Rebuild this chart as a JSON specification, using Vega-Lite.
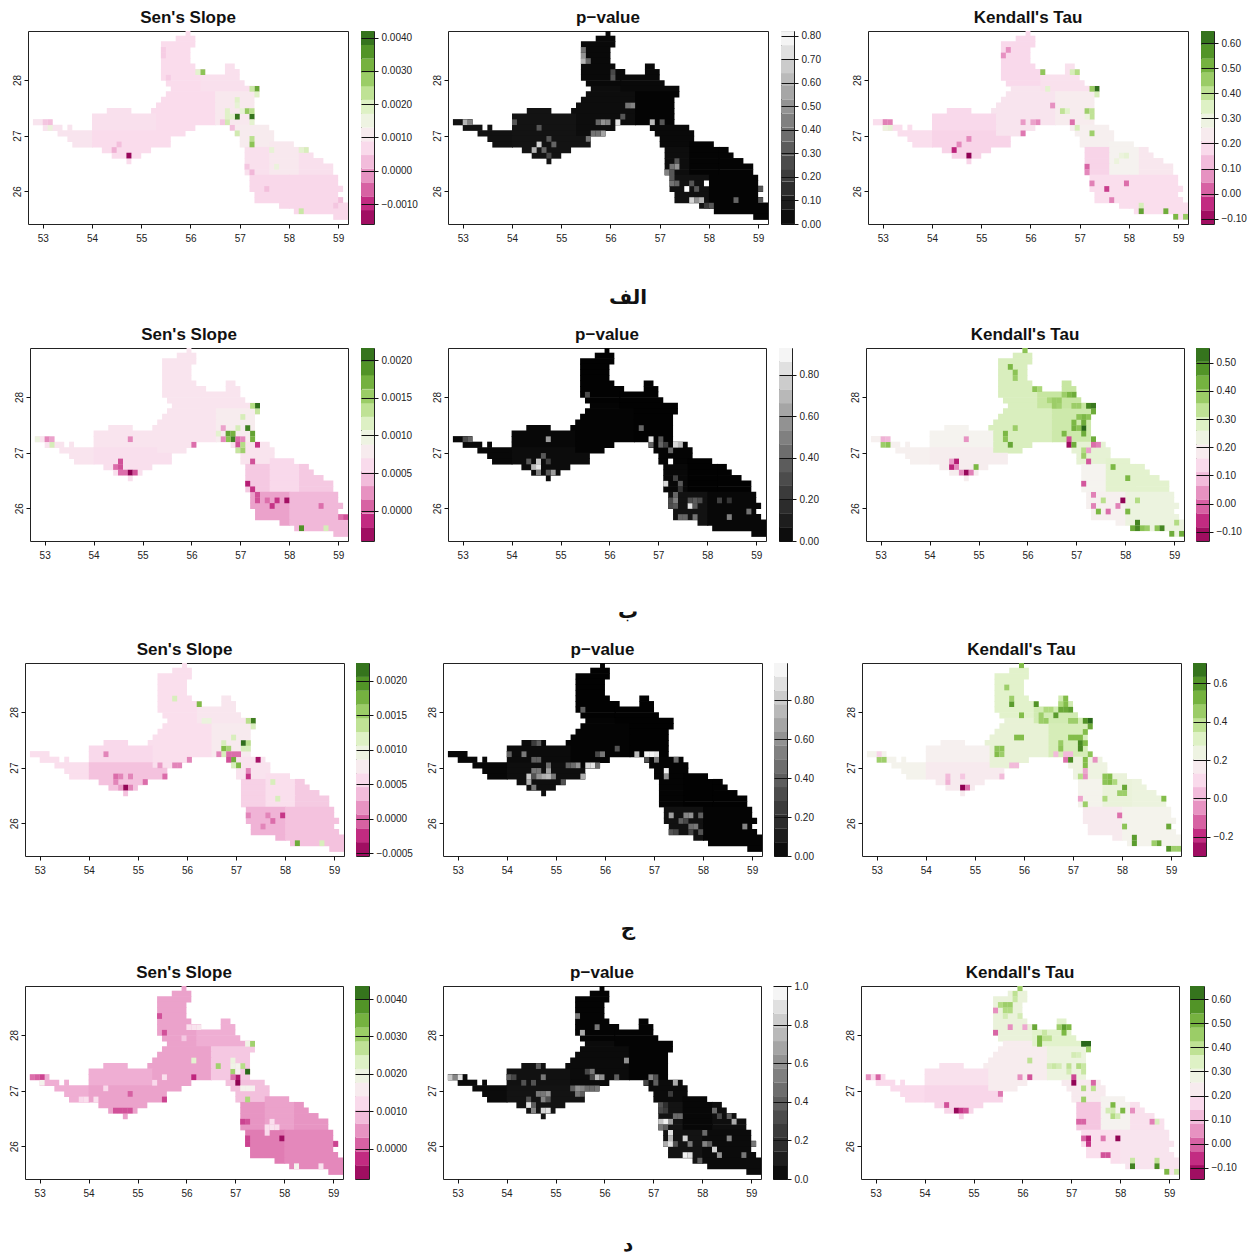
{"$schema":"https://vega.github.io/schema/vega-lite/v6.json","padding":0,"background":"white","bounds":"flush","spacing":0,"resolve":{"scale":{"color":"independent"}},
"config":{"view":{"stroke":null},"concat":{"spacing":0},"axis":{"grid":false,"domain":false,"tickColor":"#111","labelColor":"#222","labelFont":"Liberation Sans","labelFontSize":10,"tickSize":4,"labelPadding":4,"gridColor":"#111"},"axisX":{"labelPadding":5},"axisY":{"labelAngle":-90,"labelPadding":2},"title":{"font":"Liberation Sans","fontWeight":"bold","fontSize":17,"offset":4,"color":"#111"}},
"datasets":{
"zones":[
{"z":"N","s1":0.0007,"p1":0.02,"t1":0.18,"s2":0.0007,"p2":0.005,"t2":0.29,"s3":0.0006,"p3":0.005,"t3":0.3,"s4":0.0006,"p4":0.01,"t4":0.3},
{"z":"E","s1":0.0008,"p1":0.02,"t1":0.2,"s2":0.0007,"p2":0.005,"t2":0.32,"s3":0.0007,"p3":0.005,"t3":0.34,"s4":0.0007,"p4":0.01,"t4":0.33},
{"z":"M","s1":0.0007,"p1":0.03,"t1":0.21,"s2":0.0007,"p2":0.01,"t2":0.29,"s3":0.0006,"p3":0.01,"t3":0.27,"s4":0.0006,"p4":0.03,"t4":0.23},
{"z":"C","s1":0.001,"p1":0.01,"t1":0.24,"s2":0.0008,"p2":0.005,"t2":0.31,"s3":0.00075,"p3":0.005,"t3":0.33,"s4":0.001,"p4":0.01,"t4":0.29},
{"z":"A","s1":0.0009,"p1":0.04,"t1":0.19,"s2":0.0007,"p2":0.02,"t2":0.2,"s3":0.0006,"p3":0.02,"t3":0.21,"s4":0.0007,"p4":0.03,"t4":0.17},
{"z":"W","s1":0.0008,"p1":0.05,"t1":0.18,"s2":0.0007,"p2":0.02,"t2":0.21,"s3":0.00055,"p3":0.03,"t3":0.19,"s4":0.0007,"p4":0.05,"t4":0.19},
{"z":"L","s1":0.0007,"p1":0.05,"t1":0.17,"s2":0.00065,"p2":0.03,"t2":0.19,"s3":0.0004,"p3":0.04,"t3":0.16,"s4":0.0006,"p4":0.06,"t4":0.16},
{"z":"K","s1":0.0011,"p1":0.02,"t1":0.25,"s2":0.0007,"p2":0.01,"t2":0.26,"s3":0.00065,"p3":0.01,"t3":0.24,"s4":0.0009,"p4":0.03,"t4":0.22},
{"z":"P","s1":0.0008,"p1":0.03,"t1":0.17,"s2":0.0005,"p2":0.02,"t2":0.21,"s3":0.0005,"p3":0.01,"t3":0.21,"s4":0.0005,"p4":0.06,"t4":0.13},
{"z":"Q","s1":0.001,"p1":0.01,"t1":0.26,"s2":0.0006,"p2":0.005,"t2":0.27,"s3":0.0006,"p3":0.005,"t3":0.26,"s4":0.0006,"p4":0.02,"t4":0.25},
{"z":"R","s1":0.0008,"p1":0.01,"t1":0.22,"s2":0.0005,"p2":0.005,"t2":0.27,"s3":0.00045,"p3":0.005,"t3":0.25,"s4":0.0005,"p4":0.04,"t4":0.19},
{"z":"U","s1":0.00065,"p1":0.04,"t1":0.19,"s2":0.0003,"p2":0.05,"t2":0.2,"s3":0.0003,"p3":0.05,"t3":0.16,"s4":0.0003,"p4":0.06,"t4":0.18},
{"z":"V","s1":0.00065,"p1":0.01,"t1":0.19,"s2":0.0004,"p2":0.02,"t2":0.24,"s3":0.0004,"p3":0.01,"t3":0.21,"s4":0.0004,"p4":0.03,"t4":0.2}],
"runs":[
{"y":28.84,"x":55.9,"x2":56,"z":"N"},{"y":28.74,"x":55.7,"x2":56.1,"z":"N"},{"y":28.64,"x":55.4,"x2":56.1,"z":"N"},{"y":28.54,"x":55.4,"x2":56,"z":"N"},{"y":28.44,"x":55.4,"x2":56,"z":"N"},{"y":28.34,"x":55.4,"x2":56,"z":"N"},
{"y":28.24,"x":55.4,"x2":56.1,"z":"N"},{"y":28.24,"x":56.7,"x2":56.9,"z":"E"},{"y":28.14,"x":55.4,"x2":56.3,"z":"N"},{"y":28.14,"x":56.7,"x2":57,"z":"E"},
{"y":28.04,"x":55.4,"x2":56.22,"z":"N"},{"y":28.04,"x":56.2,"x2":57,"z":"E"},{"y":27.94,"x":55.5,"x2":56.22,"z":"N"},{"y":27.94,"x":56.2,"x2":57.1,"z":"E"},
{"y":27.84,"x":55.6,"x2":56.22,"z":"M"},{"y":27.84,"x":56.2,"x2":57.4,"z":"E"},{"y":27.74,"x":55.5,"x2":56.52,"z":"M"},{"y":27.74,"x":56.5,"x2":57.4,"z":"C"},
{"y":27.64,"x":55.4,"x2":56.52,"z":"M"},{"y":27.64,"x":56.5,"x2":57.3,"z":"C"},{"y":27.54,"x":55.3,"x2":56.52,"z":"M"},{"y":27.54,"x":56.5,"x2":57.3,"z":"C"},
{"y":27.44,"x":54.3,"x2":54.8,"z":"W"},{"y":27.44,"x":55.2,"x2":56.52,"z":"M"},{"y":27.44,"x":56.5,"x2":57.3,"z":"C"},
{"y":27.34,"x":54,"x2":55.32,"z":"W"},{"y":27.34,"x":55.3,"x2":56.52,"z":"M"},{"y":27.34,"x":56.5,"x2":57.3,"z":"C"},
{"y":27.24,"x":52.8,"x2":53.2,"z":"A"},{"y":27.24,"x":54,"x2":55.32,"z":"W"},{"y":27.24,"x":55.3,"x2":56.52,"z":"M"},{"y":27.24,"x":56.5,"x2":57.3,"z":"C"},
{"y":27.14,"x":53,"x2":53.4,"z":"A"},{"y":27.14,"x":53.5,"x2":53.6,"z":"A"},{"y":27.14,"x":54,"x2":55.32,"z":"W"},{"y":27.14,"x":55.3,"x2":56.1,"z":"M"},{"y":27.14,"x":56.8,"x2":57.6,"z":"K"},
{"y":27.04,"x":53.3,"x2":54.02,"z":"A"},{"y":27.04,"x":54,"x2":55.32,"z":"L"},{"y":27.04,"x":55.3,"x2":55.9,"z":"M"},{"y":27.04,"x":56.9,"x2":57.7,"z":"K"},
{"y":26.94,"x":53.5,"x2":54.02,"z":"A"},{"y":26.94,"x":54,"x2":55.6,"z":"L"},{"y":26.94,"x":57,"x2":57.7,"z":"K"},
{"y":26.84,"x":53.6,"x2":54.02,"z":"A"},{"y":26.84,"x":54,"x2":55.6,"z":"L"},{"y":26.84,"x":57,"x2":57.62,"z":"K"},{"y":26.84,"x":57.6,"x2":58.1,"z":"Q"},
{"y":26.74,"x":54.2,"x2":55.2,"z":"L"},{"y":26.74,"x":57.1,"x2":57.62,"z":"P"},{"y":26.74,"x":57.6,"x2":58.22,"z":"Q"},{"y":26.74,"x":58.2,"x2":58.4,"z":"R"},
{"y":26.64,"x":54.4,"x2":55,"z":"L"},{"y":26.64,"x":57.1,"x2":57.62,"z":"P"},{"y":26.64,"x":57.6,"x2":58.22,"z":"Q"},{"y":26.64,"x":58.2,"x2":58.5,"z":"R"},
{"y":26.54,"x":54.7,"x2":54.8,"z":"L"},{"y":26.54,"x":57.1,"x2":57.62,"z":"P"},{"y":26.54,"x":57.6,"x2":58.22,"z":"Q"},{"y":26.54,"x":58.2,"x2":58.7,"z":"R"},
{"y":26.44,"x":57.1,"x2":57.62,"z":"P"},{"y":26.44,"x":57.6,"x2":58.22,"z":"Q"},{"y":26.44,"x":58.2,"x2":58.9,"z":"R"},
{"y":26.34,"x":57.1,"x2":57.62,"z":"P"},{"y":26.34,"x":57.6,"x2":58.22,"z":"Q"},{"y":26.34,"x":58.2,"x2":58.9,"z":"R"},
{"y":26.24,"x":57.2,"x2":58.02,"z":"U"},{"y":26.24,"x":58,"x2":59,"z":"V"},{"y":26.14,"x":57.2,"x2":58.02,"z":"U"},{"y":26.14,"x":58,"x2":59,"z":"V"},
{"y":26.04,"x":57.2,"x2":58.02,"z":"U"},{"y":26.04,"x":58,"x2":59.1,"z":"V"},{"y":25.94,"x":57.3,"x2":58.02,"z":"U"},{"y":25.94,"x":58,"x2":59,"z":"V"},
{"y":25.84,"x":57.3,"x2":58.02,"z":"U"},{"y":25.84,"x":58,"x2":59.1,"z":"V"},{"y":25.74,"x":57.8,"x2":58.02,"z":"U"},{"y":25.74,"x":58,"x2":59.2,"z":"V"},
{"y":25.64,"x":58.1,"x2":59.2,"z":"V"},{"y":25.54,"x":58.9,"x2":59.2,"z":"V"}],
"c1":[{"x":56.95,"y":27.34,"v":0.004},{"x":57.25,"y":27.34,"v":0.004},{"x":57.35,"y":27.84,"v":0.0033},{"x":57.25,"y":27.84,"v":0.0022},{"x":57.35,"y":27.74,"v":0.0019},{"x":56.25,"y":28.14,"v":0.0029},{"x":56.15,"y":28.14,"v":0.0018},{"x":57.15,"y":27.44,"v":0.0028},{"x":57.25,"y":27.44,"v":0.0024},{"x":57.05,"y":27.44,"v":0.0017},{"x":56.95,"y":27.64,"v":0.0019},{"x":56.95,"y":27.54,"v":0.0017},{"x":56.75,"y":27.44,"v":0.0019},{"x":56.85,"y":27.34,"v":0.0018},{"x":56.75,"y":27.34,"v":0.0019},{"x":56.75,"y":27.24,"v":0.0021},{"x":56.95,"y":27.04,"v":0.0021},{"x":57.25,"y":26.94,"v":0.0024},{"x":57.25,"y":26.84,"v":0.0029},{"x":57.25,"y":27.24,"v":0.0018},{"x":54.75,"y":26.64,"v":-0.0015},{"x":54.45,"y":26.74,"v":0.0001},{"x":54.55,"y":26.84,"v":0.0003},{"x":58.25,"y":25.64,"v":0.0022},{"x":58.35,"y":26.74,"v":0.002},{"x":58.25,"y":26.74,"v":0.0018},{"x":57.65,"y":26.74,"v":0.0017},{"x":56.85,"y":27.14,"v":0.0003},{"x":56.65,"y":27.24,"v":0.0004},{"x":53.15,"y":27.14,"v":0.0016},{"x":53.15,"y":27.24,"v":0.0003},{"x":53.05,"y":27.24,"v":0.0004},{"x":57.15,"y":26.44,"v":0.0004},{"x":57.25,"y":26.34,"v":0.0002},{"x":57.55,"y":26.04,"v":0.0003},{"x":58.95,"y":25.74,"v":0.0004},{"x":59.05,"y":25.84,"v":0.0003},{"x":57.75,"y":26.44,"v":0.0016},{"x":55.45,"y":28.44,"v":0.0005},{"x":55.45,"y":28.54,"v":0.0005},{"x":55.55,"y":28.04,"v":0.0005}],
"c2":[{"x":57.55,"y":26.04,"v":0.82},{"x":57.95,"y":26.14,"v":0.82},{"x":56.85,"y":27.24,"v":0.62},{"x":54.55,"y":26.84,"v":0.7},{"x":54.45,"y":26.74,"v":0.6},{"x":53.05,"y":27.24,"v":0.6},{"x":53.15,"y":27.24,"v":0.45},{"x":56.15,"y":27.24,"v":0.75},{"x":55.95,"y":27.24,"v":0.45},{"x":55.85,"y":27.24,"v":0.5},{"x":55.75,"y":27.24,"v":0.35},{"x":55.45,"y":28.44,"v":0.5},{"x":55.45,"y":28.34,"v":0.6},{"x":55.55,"y":28.34,"v":0.35},{"x":55.45,"y":28.54,"v":0.4},{"x":55.85,"y":27.04,"v":0.55},{"x":55.65,"y":27.04,"v":0.4},{"x":55.75,"y":27.04,"v":0.4},{"x":55.55,"y":26.94,"v":0.4},{"x":56.35,"y":27.54,"v":0.4},{"x":56.45,"y":27.54,"v":0.45},{"x":57.35,"y":26.44,"v":0.5},{"x":57.25,"y":26.44,"v":0.4},{"x":57.15,"y":26.34,"v":0.45},{"x":57.25,"y":26.34,"v":0.3},{"x":57.35,"y":26.54,"v":0.3},{"x":57.25,"y":26.14,"v":0.4},{"x":57.25,"y":26.24,"v":0.3},{"x":57.35,"y":26.14,"v":0.35},{"x":57.65,"y":25.84,"v":0.7},{"x":57.75,"y":25.84,"v":0.5},{"x":57.85,"y":25.84,"v":0.6},{"x":58.05,"y":25.74,"v":0.3},{"x":57.95,"y":25.74,"v":0.2},{"x":57.65,"y":26.14,"v":0.3},{"x":57.75,"y":26.04,"v":0.3},{"x":58.55,"y":25.84,"v":0.35},{"x":59.05,"y":26.04,"v":0.3},{"x":59.05,"y":25.84,"v":0.3},{"x":54.65,"y":26.74,"v":0.35},{"x":54.75,"y":26.94,"v":0.3},{"x":54.85,"y":26.84,"v":0.35},{"x":54.75,"y":26.64,"v":0.25},{"x":54.55,"y":27.14,"v":0.3},{"x":56.25,"y":27.34,"v":0.3},{"x":57.05,"y":27.24,"v":0.3},{"x":56.05,"y":28.04,"v":0.3},{"x":56.05,"y":28.14,"v":0.25},{"x":54.05,"y":27.24,"v":0.3}],
"c3":[{"x":57.35,"y":27.84,"v":0.63},{"x":57.25,"y":27.84,"v":0.46},{"x":57.35,"y":27.74,"v":0.36},{"x":56.25,"y":28.14,"v":0.47},{"x":56.85,"y":28.14,"v":0.36},{"x":56.95,"y":28.14,"v":0.42},{"x":56.65,"y":27.44,"v":0.4},{"x":56.75,"y":27.44,"v":0.34},{"x":57.15,"y":27.44,"v":0.45},{"x":57.25,"y":27.44,"v":0.4},{"x":57.25,"y":27.34,"v":0.4},{"x":57.15,"y":27.34,"v":0.3},{"x":57.25,"y":27.04,"v":0.45},{"x":56.95,"y":27.14,"v":0.36},{"x":56.35,"y":27.84,"v":0.33},{"x":58.25,"y":25.74,"v":0.36},{"x":58.25,"y":25.64,"v":0.54},{"x":58.75,"y":25.64,"v":0.52},{"x":58.95,"y":25.54,"v":0.5},{"x":59.15,"y":25.54,"v":0.46},{"x":54.45,"y":26.74,"v":-0.05},{"x":54.75,"y":26.64,"v":-0.12},{"x":53.15,"y":27.24,"v":0.05},{"x":53.05,"y":27.24,"v":0.05},{"x":53.15,"y":27.14,"v":0.32},{"x":53.05,"y":27.14,"v":0.3},{"x":57.15,"y":26.44,"v":0.02},{"x":57.55,"y":26.04,"v":-0.02},{"x":57.95,"y":26.14,"v":0.03},{"x":57.65,"y":25.84,"v":0.05},{"x":56.85,"y":27.24,"v":0.03},{"x":56.15,"y":27.24,"v":0.06},{"x":55.85,"y":27.04,"v":0.04},{"x":55.55,"y":28.54,"v":0.07},{"x":55.45,"y":28.44,"v":0.07},{"x":57.85,"y":26.64,"v":0.3},{"x":57.95,"y":26.64,"v":0.32},{"x":57.75,"y":26.54,"v":0.3},{"x":55.85,"y":27.24,"v":0.08},{"x":56.05,"y":27.24,"v":0.09},{"x":56.45,"y":27.54,"v":0.07},{"x":54.55,"y":26.84,"v":0.06},{"x":54.75,"y":26.94,"v":0.06},{"x":57.25,"y":26.14,"v":0.05},{"x":57.15,"y":26.34,"v":0.06}],
"c4":[{"x":57.35,"y":27.84,"v":0.0021},{"x":57.25,"y":27.84,"v":0.0014},{"x":57.35,"y":27.74,"v":0.0013},{"x":57.15,"y":27.44,"v":0.002},{"x":57.25,"y":27.34,"v":0.0018},{"x":57.25,"y":27.24,"v":0.0017},{"x":56.75,"y":27.34,"v":0.0018},{"x":56.85,"y":27.34,"v":0.0017},{"x":56.85,"y":27.24,"v":0.002},{"x":56.75,"y":27.24,"v":0.0016},{"x":56.95,"y":27.24,"v":0.0001},{"x":56.95,"y":27.14,"v":0},{"x":56.95,"y":27.04,"v":0.0013},{"x":57.05,"y":27.04,"v":0.0015},{"x":57.05,"y":27.14,"v":0.0014},{"x":56.05,"y":27.14,"v":0.0001},{"x":54.75,"y":27.24,"v":0.0002},{"x":54.55,"y":26.84,"v":0},{"x":54.55,"y":26.74,"v":0},{"x":54.45,"y":26.74,"v":0.0001},{"x":54.55,"y":26.64,"v":0.0001},{"x":54.65,"y":26.64,"v":0.0001},{"x":54.75,"y":26.64,"v":-0.0004},{"x":54.85,"y":26.64,"v":0},{"x":57.25,"y":26.84,"v":0},{"x":57.35,"y":27.14,"v":-0.0001},{"x":57.15,"y":26.44,"v":-0.0002},{"x":57.25,"y":26.34,"v":-0.0001},{"x":57.95,"y":26.14,"v":-0.0003},{"x":57.75,"y":26.14,"v":-0.0001},{"x":57.35,"y":26.24,"v":0},{"x":57.35,"y":26.14,"v":0},{"x":57.65,"y":26.04,"v":-0.0001},{"x":57.55,"y":26.14,"v":0.0001},{"x":58.25,"y":25.64,"v":0.0019},{"x":58.75,"y":25.64,"v":0.0012},{"x":53.15,"y":27.14,"v":0.0012},{"x":52.85,"y":27.24,"v":0.001},{"x":53.05,"y":27.24,"v":0.0002},{"x":53.15,"y":27.24,"v":0.0003},{"x":56.55,"y":27.34,"v":0.0011},{"x":57.05,"y":27.64,"v":0.0012},{"x":56.95,"y":27.44,"v":0.0012},{"x":59.15,"y":25.84,"v":0},{"x":59.05,"y":25.84,"v":0.0001},{"x":58.65,"y":26.04,"v":0.0001},{"x":57.05,"y":27.24,"v":0.0002},{"x":56.65,"y":27.24,"v":0.0002},{"x":56.65,"y":27.44,"v":0.0003}],
"c5":[{"x":54.55,"y":26.74,"v":0.85},{"x":54.45,"y":26.74,"v":0.7},{"x":54.55,"y":26.84,"v":0.75},{"x":54.35,"y":26.84,"v":0.35},{"x":54.85,"y":26.64,"v":0.6},{"x":54.75,"y":26.64,"v":0.35},{"x":54.55,"y":26.64,"v":0.5},{"x":54.75,"y":27.24,"v":0.6},{"x":53.05,"y":27.24,"v":0.3},{"x":53.15,"y":27.24,"v":0.4},{"x":55.55,"y":28.04,"v":0.3},{"x":56.65,"y":27.44,"v":0.4},{"x":56.85,"y":27.24,"v":0.85},{"x":56.85,"y":27.14,"v":0.4},{"x":57.05,"y":27.24,"v":0.35},{"x":57.05,"y":27.14,"v":0.4},{"x":57.15,"y":27.14,"v":0.25},{"x":57.35,"y":27.14,"v":0.8},{"x":57.45,"y":27.14,"v":0.7},{"x":57.25,"y":27.04,"v":0.4},{"x":57.25,"y":26.84,"v":0.93},{"x":57.15,"y":26.44,"v":0.8},{"x":57.35,"y":26.24,"v":0.4},{"x":57.35,"y":26.14,"v":0.5},{"x":57.25,"y":26.14,"v":0.3},{"x":57.35,"y":26.04,"v":0.35},{"x":57.25,"y":26.04,"v":0.3},{"x":57.65,"y":26.04,"v":0.85},{"x":57.55,"y":25.84,"v":0.4},{"x":57.45,"y":25.84,"v":0.4},{"x":57.75,"y":25.84,"v":0.45},{"x":58.45,"y":25.84,"v":0.5},{"x":58.85,"y":25.94,"v":0.45},{"x":57.75,"y":26.04,"v":0.35},{"x":57.75,"y":26.14,"v":0.35},{"x":57.65,"y":26.14,"v":0.3},{"x":58.25,"y":26.14,"v":0.25},{"x":57.85,"y":26.14,"v":0.3},{"x":58.45,"y":26.14,"v":0.2},{"x":57.45,"y":26.44,"v":0.35},{"x":57.35,"y":26.54,"v":0.25},{"x":54.75,"y":26.84,"v":0.25},{"x":54.65,"y":26.94,"v":0.35},{"x":57.45,"y":26.34,"v":0.2}],
"c6":[{"x":55.95,"y":28.84,"v":0.4},{"x":57.25,"y":27.84,"v":0.5},{"x":57.35,"y":27.84,"v":0.52},{"x":57.35,"y":27.74,"v":0.44},{"x":56.15,"y":28.14,"v":0.4},{"x":56.25,"y":28.14,"v":0.36},{"x":56.85,"y":28.04,"v":0.42},{"x":56.95,"y":28.04,"v":0.44},{"x":56.45,"y":27.94,"v":0.36},{"x":56.55,"y":27.94,"v":0.38},{"x":56.65,"y":27.94,"v":0.38},{"x":56.75,"y":28.04,"v":0.38},{"x":56.65,"y":27.84,"v":0.37},{"x":56.55,"y":27.84,"v":0.38},{"x":56.95,"y":27.84,"v":0.38},{"x":57.05,"y":27.84,"v":0.38},{"x":57.15,"y":27.64,"v":0.42},{"x":57.05,"y":27.64,"v":0.4},{"x":57.25,"y":27.64,"v":0.4},{"x":56.95,"y":27.54,"v":0.42},{"x":56.95,"y":27.44,"v":0.43},{"x":57.15,"y":27.44,"v":0.55},{"x":57.15,"y":27.54,"v":0.44},{"x":57.05,"y":27.44,"v":0.4},{"x":56.75,"y":27.34,"v":0.42},{"x":57.15,"y":27.34,"v":0.44},{"x":55.65,"y":27.14,"v":0.45},{"x":55.55,"y":27.34,"v":0.42},{"x":55.55,"y":27.24,"v":0.4},{"x":55.75,"y":28.44,"v":0.4},{"x":55.65,"y":28.54,"v":0.42},{"x":55.75,"y":28.34,"v":0.38},{"x":55.75,"y":27.44,"v":0.38},{"x":56.85,"y":27.24,"v":-0.03},{"x":56.85,"y":27.14,"v":-0.11},{"x":56.95,"y":27.14,"v":0.44},{"x":57.35,"y":27.24,"v":0.44},{"x":57.35,"y":27.14,"v":0},{"x":57.45,"y":27.14,"v":0.02},{"x":57.15,"y":27.04,"v":0.35},{"x":57.15,"y":26.94,"v":0.38},{"x":57.25,"y":26.84,"v":-0.02},{"x":57.25,"y":27.04,"v":0.05},{"x":54.55,"y":26.84,"v":-0.08},{"x":54.45,"y":26.74,"v":-0.07},{"x":54.55,"y":26.74,"v":0.03},{"x":54.75,"y":26.64,"v":-0.12},{"x":54.85,"y":26.64,"v":0.02},{"x":54.65,"y":26.64,"v":0.03},{"x":54.95,"y":26.74,"v":0.42},{"x":54.75,"y":27.24,"v":0.04},{"x":53.15,"y":27.14,"v":0.4},{"x":53.05,"y":27.14,"v":0.38},{"x":53.15,"y":27.24,"v":0.08},{"x":53.05,"y":27.24,"v":0.07},{"x":54.45,"y":26.84,"v":0.05},{"x":57.15,"y":26.44,"v":-0.02},{"x":57.95,"y":26.14,"v":-0.13},{"x":57.65,"y":25.94,"v":0},{"x":57.45,"y":25.94,"v":0.42},{"x":58.05,"y":25.94,"v":0.42},{"x":57.75,"y":26.74,"v":0.42},{"x":58.05,"y":26.54,"v":0.42},{"x":58.25,"y":25.74,"v":0.5},{"x":58.25,"y":25.64,"v":0.5},{"x":58.15,"y":25.64,"v":0.44},{"x":58.35,"y":25.64,"v":0.4},{"x":58.45,"y":25.64,"v":0.38},{"x":58.65,"y":25.64,"v":0.4},{"x":58.75,"y":25.64,"v":0.5},{"x":58.95,"y":25.54,"v":0.44},{"x":59.15,"y":25.54,"v":0.44},{"x":59.05,"y":25.74,"v":0.35},{"x":58.25,"y":26.14,"v":0.35},{"x":57.55,"y":26.14,"v":0.34},{"x":57.35,"y":26.24,"v":0.02},{"x":57.35,"y":26.04,"v":0.02},{"x":57.85,"y":26.04,"v":0.02}],
"c7":[{"x":57.35,"y":27.84,"v":0.0021},{"x":57.25,"y":27.84,"v":0.0014},{"x":57.35,"y":27.74,"v":0.0012},{"x":56.25,"y":28.14,"v":0.0017},{"x":57.15,"y":27.44,"v":0.0022},{"x":57.25,"y":27.44,"v":0.0014},{"x":56.75,"y":27.34,"v":0.0017},{"x":56.85,"y":27.34,"v":0.0015},{"x":56.95,"y":27.54,"v":0.0012},{"x":57.15,"y":27.34,"v":0.0012},{"x":57.25,"y":27.34,"v":0.0012},{"x":56.75,"y":27.44,"v":0.0012},{"x":56.95,"y":27.14,"v":0.0018},{"x":57.05,"y":27.04,"v":0.0017},{"x":56.95,"y":27.04,"v":0.0012},{"x":56.75,"y":27.24,"v":0.0012},{"x":56.65,"y":27.24,"v":0.0001},{"x":56.85,"y":27.24,"v":0},{"x":56.95,"y":27.24,"v":0},{"x":57.05,"y":27.24,"v":0},{"x":56.85,"y":27.14,"v":-0.0001},{"x":57.45,"y":27.14,"v":-0.0004},{"x":57.25,"y":26.94,"v":0.0001},{"x":57.25,"y":26.84,"v":-0.0002},{"x":57.75,"y":26.74,"v":0.0012},{"x":57.85,"y":26.44,"v":0.0012},{"x":54.75,"y":26.64,"v":-0.0005},{"x":54.55,"y":26.84,"v":0},{"x":54.55,"y":26.74,"v":0.0001},{"x":54.65,"y":26.84,"v":0.0001},{"x":54.85,"y":26.64,"v":0.0001},{"x":54.65,"y":26.64,"v":0.0002},{"x":54.85,"y":26.84,"v":0.0001},{"x":55.55,"y":26.84,"v":0},{"x":55.15,"y":26.74,"v":0},{"x":55.75,"y":27.04,"v":0.0001},{"x":55.85,"y":27.04,"v":0.0001},{"x":55.45,"y":27.04,"v":0.0002},{"x":57.95,"y":26.14,"v":-0.0002},{"x":57.65,"y":26.14,"v":0.0001},{"x":57.75,"y":26.04,"v":0},{"x":57.55,"y":25.94,"v":0.0001},{"x":57.25,"y":26.14,"v":0.0001},{"x":58.25,"y":25.64,"v":0.0018},{"x":58.75,"y":25.64,"v":0.0012},{"x":55.75,"y":28.24,"v":0.0012},{"x":56.45,"y":27.84,"v":0.001},{"x":56.35,"y":27.84,"v":0.001},{"x":54.35,"y":27.24,"v":0.0001},{"x":56.05,"y":27.14,"v":0.0001}],
"c8":[{"x":54.45,"y":26.84,"v":0.8},{"x":54.45,"y":26.74,"v":0.7},{"x":54.55,"y":26.94,"v":0.5},{"x":54.65,"y":26.94,"v":0.5},{"x":54.85,"y":26.84,"v":0.75},{"x":54.75,"y":26.84,"v":0.7},{"x":54.95,"y":26.84,"v":0.5},{"x":54.85,"y":26.94,"v":0.65},{"x":54.85,"y":27.04,"v":0.45},{"x":54.55,"y":26.64,"v":0.5},{"x":54.55,"y":26.84,"v":0.35},{"x":54.65,"y":26.84,"v":0.6},{"x":55.55,"y":26.84,"v":0.7},{"x":55.15,"y":26.74,"v":0.35},{"x":55.25,"y":27.04,"v":0.4},{"x":55.35,"y":27.04,"v":0.45},{"x":55.45,"y":27.04,"v":0.6},{"x":55.65,"y":27.04,"v":0.85},{"x":55.75,"y":27.04,"v":0.9},{"x":55.85,"y":27.04,"v":0.45},{"x":55.55,"y":28.04,"v":0.4},{"x":56.65,"y":27.24,"v":0.75},{"x":56.85,"y":27.24,"v":0.95},{"x":56.95,"y":27.24,"v":0.95},{"x":57.05,"y":27.24,"v":0.9},{"x":56.85,"y":27.14,"v":0.35},{"x":57.05,"y":27.14,"v":0.5},{"x":57.25,"y":26.94,"v":0.95},{"x":57.25,"y":26.84,"v":0.6},{"x":54.05,"y":27.24,"v":0.4},{"x":54.35,"y":27.24,"v":0.5},{"x":54.55,"y":27.14,"v":0.4},{"x":54.65,"y":27.14,"v":0.4},{"x":54.65,"y":27.44,"v":0.4},{"x":54.55,"y":27.44,"v":0.25},{"x":55.85,"y":27.24,"v":0.3},{"x":55.95,"y":27.24,"v":0.5},{"x":56.25,"y":27.34,"v":0.35},{"x":57.45,"y":27.14,"v":0.45},{"x":57.35,"y":26.14,"v":0.65},{"x":57.65,"y":26.14,"v":0.55},{"x":57.75,"y":26.14,"v":0.6},{"x":57.95,"y":26.14,"v":0.4},{"x":57.55,"y":26.04,"v":0.4},{"x":57.65,"y":26.04,"v":0.3},{"x":57.75,"y":25.94,"v":0.45},{"x":57.85,"y":25.94,"v":0.5},{"x":57.95,"y":25.84,"v":0.35},{"x":57.35,"y":25.84,"v":0.35},{"x":57.45,"y":25.84,"v":0.3},{"x":57.75,"y":25.84,"v":0.3},{"x":58.85,"y":25.94,"v":0.55}],
"c9":[{"x":55.95,"y":28.84,"v":0.5},{"x":57.25,"y":27.84,"v":0.6},{"x":57.35,"y":27.84,"v":0.7},{"x":57.35,"y":27.74,"v":0.55},{"x":56.25,"y":28.14,"v":0.6},{"x":56.85,"y":28.24,"v":0.5},{"x":56.85,"y":28.14,"v":0.5},{"x":56.75,"y":28.14,"v":0.42},{"x":56.45,"y":28.04,"v":0.42},{"x":56.55,"y":28.04,"v":0.42},{"x":56.75,"y":28.04,"v":0.55},{"x":56.85,"y":28.04,"v":0.55},{"x":56.95,"y":28.04,"v":0.58},{"x":56.65,"y":27.94,"v":0.58},{"x":55.95,"y":27.94,"v":0.5},{"x":55.75,"y":28.14,"v":0.58},{"x":55.75,"y":28.24,"v":0.45},{"x":55.65,"y":28.44,"v":0.45},{"x":56.35,"y":27.94,"v":0.45},{"x":56.35,"y":27.84,"v":0.45},{"x":56.45,"y":27.84,"v":0.46},{"x":56.95,"y":27.84,"v":0.45},{"x":57.05,"y":27.84,"v":0.45},{"x":57.25,"y":27.64,"v":0.5},{"x":57.05,"y":27.54,"v":0.5},{"x":56.95,"y":27.54,"v":0.5},{"x":57.15,"y":27.54,"v":0.5},{"x":57.15,"y":27.44,"v":0.62},{"x":57.15,"y":27.34,"v":0.62},{"x":57.25,"y":27.44,"v":0.5},{"x":56.75,"y":27.44,"v":0.46},{"x":56.75,"y":27.34,"v":0.48},{"x":55.85,"y":27.54,"v":0.5},{"x":55.95,"y":27.54,"v":0.5},{"x":55.45,"y":27.34,"v":0.48},{"x":55.55,"y":27.34,"v":0.48},{"x":55.45,"y":27.24,"v":0.5},{"x":55.55,"y":27.24,"v":0.45},{"x":53.05,"y":27.14,"v":0.45},{"x":53.15,"y":27.14,"v":0.45},{"x":53.05,"y":27.24,"v":0.08},{"x":56.85,"y":27.14,"v":-0.1},{"x":56.95,"y":27.14,"v":0.62},{"x":56.85,"y":27.24,"v":0.02},{"x":56.95,"y":27.24,"v":0.02},{"x":57.25,"y":27.14,"v":0.5},{"x":57.25,"y":27.04,"v":0.5},{"x":57.35,"y":27.24,"v":0.48},{"x":57.45,"y":27.14,"v":-0.05},{"x":57.25,"y":26.94,"v":-0.02},{"x":57.25,"y":26.84,"v":-0.05},{"x":57.15,"y":26.84,"v":0.4},{"x":57.65,"y":26.84,"v":0.48},{"x":57.75,"y":26.84,"v":0.5},{"x":57.65,"y":26.74,"v":0.48},{"x":57.75,"y":26.74,"v":0.5},{"x":57.85,"y":26.74,"v":0.42},{"x":58.05,"y":26.64,"v":0.55},{"x":57.95,"y":26.54,"v":0.45},{"x":58.05,"y":26.54,"v":0.45},{"x":57.65,"y":26.44,"v":0.42},{"x":54.75,"y":26.64,"v":-0.3},{"x":54.85,"y":26.64,"v":-0.1},{"x":54.45,"y":26.74,"v":0},{"x":54.45,"y":26.84,"v":0.02},{"x":54.75,"y":26.84,"v":0.05},{"x":57.95,"y":26.14,"v":-0.1},{"x":57.15,"y":26.44,"v":-0.02},{"x":57.25,"y":26.34,"v":0.45},{"x":58.05,"y":25.94,"v":0.48},{"x":58.25,"y":25.74,"v":0.58},{"x":58.25,"y":25.64,"v":0.58},{"x":58.75,"y":25.64,"v":0.55},{"x":58.65,"y":25.64,"v":0.45},{"x":58.95,"y":25.54,"v":0.6},{"x":59.05,"y":25.54,"v":0.45},{"x":59.15,"y":25.54,"v":0.45},{"x":58.95,"y":25.94,"v":0.55},{"x":58.85,"y":26.44,"v":0.5},{"x":55.85,"y":27.04,"v":0.02},{"x":55.75,"y":27.04,"v":0.02},{"x":55.55,"y":26.84,"v":0.02},{"x":56.65,"y":27.24,"v":0.02}],
"c10":[{"x":57.25,"y":27.34,"v":0.0043},{"x":57.35,"y":27.84,"v":0.003},{"x":57.25,"y":27.84,"v":0.0019},{"x":56.15,"y":27.54,"v":0.0022},{"x":56.65,"y":27.44,"v":0.003},{"x":56.95,"y":27.34,"v":0.003},{"x":57.15,"y":27.44,"v":0.0028},{"x":56.95,"y":27.54,"v":0.002},{"x":57.25,"y":26.84,"v":0.0029},{"x":57.05,"y":27.14,"v":-0.0008},{"x":57.05,"y":27.24,"v":-0.0005},{"x":56.95,"y":27.24,"v":0.0002},{"x":57.95,"y":26.14,"v":-0.0006},{"x":56.15,"y":27.24,"v":-0.0003},{"x":56.05,"y":28.14,"v":0.0013},{"x":56.25,"y":28.14,"v":0.0015},{"x":56.15,"y":28.14,"v":0.0014},{"x":56.95,"y":27.44,"v":0.0019},{"x":57.05,"y":27.44,"v":0.0018},{"x":57.05,"y":27.34,"v":0.0017},{"x":57.15,"y":27.04,"v":0.0018},{"x":57.25,"y":27.04,"v":0.0018},{"x":57.35,"y":27.04,"v":0.0017},{"x":55.95,"y":27.94,"v":0.001},{"x":57.75,"y":26.44,"v":0.0013},{"x":57.85,"y":26.34,"v":0.0013},{"x":57.65,"y":26.34,"v":0.0013},{"x":57.75,"y":26.34,"v":0.0014},{"x":57.65,"y":26.24,"v":0.0012},{"x":58.25,"y":25.64,"v":0.0018},{"x":58.75,"y":25.64,"v":0.0014},{"x":54.65,"y":26.64,"v":0},{"x":54.75,"y":26.64,"v":0},{"x":54.85,"y":26.64,"v":0},{"x":54.55,"y":26.64,"v":0},{"x":55.55,"y":26.84,"v":-0.0001},{"x":59.05,"y":26.04,"v":-0.0001},{"x":57.25,"y":26.14,"v":-0.0001},{"x":57.25,"y":26.04,"v":-0.0001},{"x":57.15,"y":26.44,"v":-0.0001},{"x":57.25,"y":26.44,"v":0},{"x":53.05,"y":27.24,"v":-0.0001},{"x":52.95,"y":27.24,"v":0.0001},{"x":53.05,"y":27.14,"v":0.0018},{"x":52.85,"y":27.24,"v":0.0002},{"x":54.85,"y":26.94,"v":0.0001},{"x":54.35,"y":27.04,"v":0.0012},{"x":54.15,"y":26.84,"v":0.0013},{"x":53.95,"y":26.84,"v":0.0013},{"x":53.85,"y":26.84,"v":0.0012},{"x":55.35,"y":27.14,"v":0.0012},{"x":55.55,"y":27.24,"v":0.0013},{"x":55.45,"y":28.34,"v":0},{"x":55.55,"y":28.04,"v":0}],
"c11":[{"x":52.85,"y":27.24,"v":0.8},{"x":52.95,"y":27.24,"v":0.55},{"x":53.05,"y":27.24,"v":0.9},{"x":55.45,"y":28.34,"v":0.5},{"x":55.55,"y":28.04,"v":0.7},{"x":55.85,"y":28.14,"v":0.5},{"x":56.45,"y":27.54,"v":0.6},{"x":55.65,"y":27.34,"v":0.3},{"x":55.85,"y":27.24,"v":0.75},{"x":55.95,"y":27.24,"v":0.6},{"x":55.75,"y":27.34,"v":0.5},{"x":55.75,"y":27.24,"v":0.3},{"x":54.75,"y":27.24,"v":0.5},{"x":54.65,"y":27.44,"v":0.4},{"x":54.05,"y":27.24,"v":0.4},{"x":54.15,"y":27.24,"v":0.3},{"x":54.35,"y":27.14,"v":0.35},{"x":54.55,"y":27.14,"v":0.35},{"x":54.75,"y":26.94,"v":0.5},{"x":54.65,"y":26.94,"v":0.5},{"x":54.85,"y":26.94,"v":0.6},{"x":54.75,"y":26.84,"v":0.55},{"x":54.85,"y":26.84,"v":0.35},{"x":54.45,"y":26.84,"v":0.35},{"x":54.45,"y":26.74,"v":0.9},{"x":54.55,"y":26.74,"v":0.4},{"x":54.85,"y":26.64,"v":0.9},{"x":54.75,"y":26.64,"v":0.85},{"x":54.55,"y":26.64,"v":0.55},{"x":55.55,"y":27.04,"v":0.55},{"x":55.45,"y":27.04,"v":0.6},{"x":55.35,"y":27.04,"v":0.4},{"x":55.65,"y":27.04,"v":0.45},{"x":55.75,"y":27.04,"v":0.45},{"x":55.85,"y":27.04,"v":0.5},{"x":55.45,"y":26.94,"v":0.5},{"x":55.55,"y":26.94,"v":0.4},{"x":56.25,"y":27.24,"v":0.4},{"x":56.95,"y":27.24,"v":0.55},{"x":57.05,"y":27.24,"v":0.35},{"x":57.05,"y":27.14,"v":0.4},{"x":56.85,"y":27.14,"v":0.3},{"x":57.45,"y":27.14,"v":0.7},{"x":57.35,"y":26.94,"v":0.25},{"x":57.15,"y":26.74,"v":0.35},{"x":57.15,"y":26.64,"v":0.3},{"x":57.25,"y":26.74,"v":0.2},{"x":57.25,"y":26.64,"v":0.25},{"x":57.15,"y":26.44,"v":0.8},{"x":57.25,"y":26.44,"v":0.95},{"x":57.35,"y":26.44,"v":0.65},{"x":57.45,"y":26.54,"v":0.45},{"x":57.55,"y":26.54,"v":0.45},{"x":57.15,"y":26.34,"v":0.5},{"x":57.25,"y":26.34,"v":0.4},{"x":57.35,"y":26.24,"v":0.9},{"x":57.35,"y":26.14,"v":0.75},{"x":57.25,"y":26.04,"v":0.7},{"x":57.35,"y":26.04,"v":0.9},{"x":57.45,"y":26.04,"v":0.35},{"x":57.65,"y":26.14,"v":0.85},{"x":57.75,"y":26.04,"v":0.5},{"x":58.05,"y":26.24,"v":0.45},{"x":58.25,"y":26.64,"v":0.45},{"x":58.35,"y":26.54,"v":0.3},{"x":58.55,"y":26.54,"v":0.4},{"x":58.65,"y":26.44,"v":0.7},{"x":58.25,"y":25.94,"v":0.85},{"x":58.35,"y":25.84,"v":0.6},{"x":57.65,"y":25.84,"v":0.95},{"x":57.75,"y":25.84,"v":0.9},{"x":57.95,"y":25.74,"v":0.4},{"x":58.85,"y":25.84,"v":0.5},{"x":59.05,"y":26.04,"v":0.5},{"x":58.55,"y":26.14,"v":0.55},{"x":58.15,"y":26.04,"v":0.4},{"x":58.05,"y":26.04,"v":0.55}],
"c12":[{"x":57.25,"y":27.84,"v":0.65},{"x":57.35,"y":27.84,"v":0.65},{"x":57.35,"y":27.74,"v":0.45},{"x":55.95,"y":28.84,"v":0.45},{"x":56.25,"y":28.14,"v":0.53},{"x":56.85,"y":28.14,"v":0.55},{"x":56.95,"y":28.14,"v":0.5},{"x":56.75,"y":28.14,"v":0.45},{"x":56.85,"y":28.04,"v":0.5},{"x":56.35,"y":27.84,"v":0.5},{"x":56.35,"y":27.94,"v":0.5},{"x":56.45,"y":27.94,"v":0.4},{"x":56.55,"y":27.94,"v":0.4},{"x":56.45,"y":28.04,"v":0.38},{"x":55.65,"y":28.54,"v":0.45},{"x":55.75,"y":28.54,"v":0.45},{"x":55.55,"y":28.54,"v":0.42},{"x":55.65,"y":28.44,"v":0.42},{"x":55.75,"y":28.44,"v":0.42},{"x":55.85,"y":28.74,"v":0.4},{"x":55.85,"y":28.64,"v":0.38},{"x":55.65,"y":28.34,"v":0.36},{"x":55.45,"y":28.44,"v":0.05},{"x":55.95,"y":28.34,"v":0.36},{"x":55.45,"y":28.04,"v":0},{"x":55.75,"y":28.14,"v":0.05},{"x":56.05,"y":28.14,"v":0.08},{"x":56.15,"y":27.54,"v":0.4},{"x":56.65,"y":27.44,"v":0.38},{"x":56.75,"y":27.44,"v":0.36},{"x":56.55,"y":27.44,"v":0.36},{"x":56.95,"y":27.44,"v":0.4},{"x":57.15,"y":27.44,"v":0.42},{"x":57.25,"y":27.44,"v":0.38},{"x":57.25,"y":27.34,"v":0.38},{"x":56.95,"y":27.34,"v":0.36},{"x":57.05,"y":27.64,"v":0.36},{"x":57.15,"y":27.64,"v":0.35},{"x":57.05,"y":27.14,"v":-0.14},{"x":57.05,"y":27.24,"v":-0.03},{"x":56.15,"y":27.24,"v":-0.02},{"x":55.95,"y":27.24,"v":0.05},{"x":57.25,"y":27.04,"v":0.42},{"x":57.45,"y":27.04,"v":0.4},{"x":57.45,"y":27.14,"v":0},{"x":57.25,"y":26.84,"v":0.45},{"x":57.85,"y":26.74,"v":0.5},{"x":57.75,"y":26.64,"v":0.36},{"x":57.85,"y":26.64,"v":0.36},{"x":58.05,"y":26.64,"v":0.5},{"x":57.85,"y":26.54,"v":0.42},{"x":57.95,"y":26.54,"v":0.36},{"x":58.75,"y":26.44,"v":0.35},{"x":58.25,"y":26.64,"v":0.05},{"x":58.65,"y":26.44,"v":0.03},{"x":54.65,"y":26.64,"v":-0.13},{"x":54.75,"y":26.64,"v":-0.05},{"x":54.85,"y":26.64,"v":-0.02},{"x":54.45,"y":26.74,"v":-0.02},{"x":53.05,"y":27.24,"v":0},{"x":52.85,"y":27.24,"v":0.05},{"x":57.15,"y":26.44,"v":0},{"x":57.25,"y":26.44,"v":0},{"x":57.35,"y":26.14,"v":-0.08},{"x":57.35,"y":26.04,"v":-0.05},{"x":57.25,"y":26.14,"v":0},{"x":57.65,"y":25.84,"v":-0.02},{"x":57.75,"y":25.84,"v":-0.02},{"x":57.95,"y":26.14,"v":-0.14},{"x":57.65,"y":26.14,"v":0.02},{"x":58.25,"y":25.74,"v":0.38},{"x":58.25,"y":25.64,"v":0.6},{"x":58.75,"y":25.74,"v":0.4},{"x":58.75,"y":25.64,"v":0.58},{"x":58.95,"y":25.54,"v":0.5},{"x":59.15,"y":25.54,"v":0.38},{"x":55.55,"y":26.94,"v":0.02}]
},
"vconcat":[
{"width":1256,"height":31,"data":{"values":[]},"mark":"rect","encoding":{}},
{"bounds":"flush","spacing":0,"resolve":{"scale":{"color":"independent"}},"hconcat":[
{"width":28,"height":193,"data":{"values":[]},"mark":"rect","encoding":{}},
{"width":320,"height":193,"view":{"stroke":"#222"},"title":"Sen's Slope","encoding":{"x":{"field":"x","type":"quantitative","title":null,"scale":{"domain":[52.7,59.2]},"axis":{"values":[53,54,55,56,57,58,59]}},"y":{"field":"y","type":"quantitative","title":null,"scale":{"domain":[25.41,28.88]},"axis":{"values":[26,27,28]}}},"layer":[{"data":{"name":"runs"},"transform":[{"lookup":"z","from":{"data":{"name":"zones"},"key":"z","fields":["s1"]},"as":["v"]}],"mark":{"type":"rect","height":6.2,"clip":true},"encoding":{"x2":{"field":"x2"},"color":{"field":"v","type":"quantitative","legend":null,"scale":{"domain":[-0.0016,0.0042],"scheme":"pinkyellowgreen"}}}},{"data":{"name":"c1"},"mark":{"type":"rect","width":5,"height":5.7,"clip":true},"encoding":{"color":{"field":"v","type":"quantitative","legend":null,"scale":{"domain":[-0.0016,0.0042],"scheme":"pinkyellowgreen"}}}}]},
{"width":13,"height":193,"data":{"values":[]},"mark":"rect","encoding":{}},
{"width":13,"height":193,"view":{"stroke":"#222"},"data":{"values":[-0.00139,-0.00098,-0.00056,-0.00015,0.00027,0.00068,0.00109,0.00151,0.00192,0.00234,0.00275,0.00316,0.00358,0.00399]},"mark":{"type":"rect","height":14,"clip":true},"encoding":{"y":{"field":"data","type":"quantitative","title":null,"scale":{"domain":[-0.0016,0.0042]},"axis":{"orient":"right","labelAngle":0,"labelPadding":3,"grid":true,"zindex":1,"format":".4f","values":[-0.001,0,0.001,0.002,0.003,0.004]}},"color":{"field":"data","type":"quantitative","legend":null,"scale":{"domain":[-0.0016,0.0042],"scheme":"pinkyellowgreen"}}}},
{"width":74,"height":193,"data":{"values":[]},"mark":"rect","encoding":{}},
{"width":320,"height":193,"view":{"stroke":"#222"},"title":"p−value","encoding":{"x":{"field":"x","type":"quantitative","title":null,"scale":{"domain":[52.7,59.2]},"axis":{"values":[53,54,55,56,57,58,59]}},"y":{"field":"y","type":"quantitative","title":null,"scale":{"domain":[25.41,28.88]},"axis":{"values":[26,27,28]}}},"layer":[{"data":{"name":"runs"},"transform":[{"lookup":"z","from":{"data":{"name":"zones"},"key":"z","fields":["p1"]},"as":["v"]}],"mark":{"type":"rect","height":6.2,"clip":true},"encoding":{"x2":{"field":"x2"},"color":{"field":"v","type":"quantitative","legend":null,"scale":{"domain":[0,0.82],"range":["#000000","#ffffff"]}}}},{"data":{"name":"c2"},"mark":{"type":"rect","width":5,"height":5.7,"clip":true},"encoding":{"color":{"field":"v","type":"quantitative","legend":null,"scale":{"domain":[0,0.82],"range":["#000000","#ffffff"]}}}}]},
{"width":13,"height":193,"data":{"values":[]},"mark":"rect","encoding":{}},
{"width":13,"height":193,"view":{"stroke":"#222"},"data":{"values":[0.03,0.09,0.15,0.21,0.26,0.32,0.38,0.44,0.5,0.56,0.62,0.67,0.73,0.79]},"mark":{"type":"rect","height":14,"clip":true},"encoding":{"y":{"field":"data","type":"quantitative","title":null,"scale":{"domain":[0,0.82]},"axis":{"orient":"right","labelAngle":0,"labelPadding":3,"grid":true,"zindex":1,"format":".2f","values":[0,0.1,0.2,0.3,0.4,0.5,0.6,0.7,0.8]}},"color":{"field":"data","type":"quantitative","legend":null,"scale":{"domain":[0,0.82],"range":["#000000","#ffffff"]}}}},
{"width":74,"height":193,"data":{"values":[]},"mark":"rect","encoding":{}},
{"width":320,"height":193,"view":{"stroke":"#222"},"title":"Kendall's Tau","encoding":{"x":{"field":"x","type":"quantitative","title":null,"scale":{"domain":[52.7,59.2]},"axis":{"values":[53,54,55,56,57,58,59]}},"y":{"field":"y","type":"quantitative","title":null,"scale":{"domain":[25.41,28.88]},"axis":{"values":[26,27,28]}}},"layer":[{"data":{"name":"runs"},"transform":[{"lookup":"z","from":{"data":{"name":"zones"},"key":"z","fields":["t1"]},"as":["v"]}],"mark":{"type":"rect","height":6.2,"clip":true},"encoding":{"x2":{"field":"x2"},"color":{"field":"v","type":"quantitative","legend":null,"scale":{"domain":[-0.121,0.648],"scheme":"pinkyellowgreen"}}}},{"data":{"name":"c3"},"mark":{"type":"rect","width":5,"height":5.7,"clip":true},"encoding":{"color":{"field":"v","type":"quantitative","legend":null,"scale":{"domain":[-0.121,0.648],"scheme":"pinkyellowgreen"}}}}]},
{"width":13,"height":193,"data":{"values":[]},"mark":"rect","encoding":{}},
{"width":13,"height":193,"view":{"stroke":"#222"},"data":{"values":[-0.094,-0.039,0.016,0.071,0.126,0.181,0.236,0.291,0.346,0.401,0.456,0.511,0.566,0.621]},"mark":{"type":"rect","height":14,"clip":true},"encoding":{"y":{"field":"data","type":"quantitative","title":null,"scale":{"domain":[-0.121,0.648]},"axis":{"orient":"right","labelAngle":0,"labelPadding":3,"grid":true,"zindex":1,"format":".2f","values":[-0.1,0,0.1,0.2,0.3,0.4,0.5,0.6]}},"color":{"field":"data","type":"quantitative","legend":null,"scale":{"domain":[-0.121,0.648],"scheme":"pinkyellowgreen"}}}}
]},
{"width":1256,"height":317,"data":{"values":[{"a":0.5,"b":0.158,"t":"الف"}]},"mark":{"type":"text","font":"DejaVu Sans","fontWeight":"bold","fontSize":20,"color":"#111"},"encoding":{"x":{"field":"a","type":"quantitative","scale":{"domain":[0,1]},"axis":null},"y":{"field":"b","type":"quantitative","scale":{"domain":[0,1]},"axis":null},"text":{"field":"t"}}},
{"bounds":"flush","spacing":0,"resolve":{"scale":{"color":"independent"}},"hconcat":[
{"width":30,"height":193,"data":{"values":[]},"mark":"rect","encoding":{}},
{"width":318,"height":193,"view":{"stroke":"#222"},"title":"Sen's Slope","encoding":{"x":{"field":"x","type":"quantitative","title":null,"scale":{"domain":[52.7,59.2]},"axis":{"values":[53,54,55,56,57,58,59]}},"y":{"field":"y","type":"quantitative","title":null,"scale":{"domain":[25.41,28.88]},"axis":{"values":[26,27,28]}}},"layer":[{"data":{"name":"runs"},"transform":[{"lookup":"z","from":{"data":{"name":"zones"},"key":"z","fields":["s2"]},"as":["v"]}],"mark":{"type":"rect","height":6.2,"clip":true},"encoding":{"x2":{"field":"x2"},"color":{"field":"v","type":"quantitative","legend":null,"scale":{"domain":[-0.0004,0.00216],"scheme":"pinkyellowgreen"}}}},{"data":{"name":"c4"},"mark":{"type":"rect","width":5,"height":5.7,"clip":true},"encoding":{"color":{"field":"v","type":"quantitative","legend":null,"scale":{"domain":[-0.0004,0.00216],"scheme":"pinkyellowgreen"}}}}]},
{"width":13,"height":193,"data":{"values":[]},"mark":"rect","encoding":{}},
{"width":13,"height":193,"view":{"stroke":"#222"},"data":{"values":[-0.00031,-0.00013,0.00006,0.00024,0.00042,0.00061,0.00079,0.00097,0.00116,0.00134,0.00152,0.00171,0.00189,0.00207]},"mark":{"type":"rect","height":14,"clip":true},"encoding":{"y":{"field":"data","type":"quantitative","title":null,"scale":{"domain":[-0.0004,0.00216]},"axis":{"orient":"right","labelAngle":0,"labelPadding":3,"grid":true,"zindex":1,"format":".4f","values":[0,0.0005,0.001,0.0015,0.002]}},"color":{"field":"data","type":"quantitative","legend":null,"scale":{"domain":[-0.0004,0.00216],"scheme":"pinkyellowgreen"}}}},
{"width":74,"height":193,"data":{"values":[]},"mark":"rect","encoding":{}},
{"width":318,"height":193,"view":{"stroke":"#222"},"title":"p−value","encoding":{"x":{"field":"x","type":"quantitative","title":null,"scale":{"domain":[52.7,59.2]},"axis":{"values":[53,54,55,56,57,58,59]}},"y":{"field":"y","type":"quantitative","title":null,"scale":{"domain":[25.41,28.88]},"axis":{"values":[26,27,28]}}},"layer":[{"data":{"name":"runs"},"transform":[{"lookup":"z","from":{"data":{"name":"zones"},"key":"z","fields":["p2"]},"as":["v"]}],"mark":{"type":"rect","height":6.2,"clip":true},"encoding":{"x2":{"field":"x2"},"color":{"field":"v","type":"quantitative","legend":null,"scale":{"domain":[0,0.93],"range":["#000000","#ffffff"]}}}},{"data":{"name":"c5"},"mark":{"type":"rect","width":5,"height":5.7,"clip":true},"encoding":{"color":{"field":"v","type":"quantitative","legend":null,"scale":{"domain":[0,0.93],"range":["#000000","#ffffff"]}}}}]},
{"width":13,"height":193,"data":{"values":[]},"mark":"rect","encoding":{}},
{"width":13,"height":193,"view":{"stroke":"#222"},"data":{"values":[0.033,0.1,0.166,0.232,0.299,0.365,0.432,0.498,0.564,0.631,0.697,0.764,0.83,0.897]},"mark":{"type":"rect","height":14,"clip":true},"encoding":{"y":{"field":"data","type":"quantitative","title":null,"scale":{"domain":[0,0.93]},"axis":{"orient":"right","labelAngle":0,"labelPadding":3,"grid":true,"zindex":1,"format":".2f","values":[0,0.2,0.4,0.6,0.8]}},"color":{"field":"data","type":"quantitative","legend":null,"scale":{"domain":[0,0.93],"range":["#000000","#ffffff"]}}}},
{"width":74,"height":193,"data":{"values":[]},"mark":"rect","encoding":{}},
{"width":318,"height":193,"view":{"stroke":"#222"},"title":"Kendall's Tau","encoding":{"x":{"field":"x","type":"quantitative","title":null,"scale":{"domain":[52.7,59.2]},"axis":{"values":[53,54,55,56,57,58,59]}},"y":{"field":"y","type":"quantitative","title":null,"scale":{"domain":[25.41,28.88]},"axis":{"values":[26,27,28]}}},"layer":[{"data":{"name":"runs"},"transform":[{"lookup":"z","from":{"data":{"name":"zones"},"key":"z","fields":["t2"]},"as":["v"]}],"mark":{"type":"rect","height":6.2,"clip":true},"encoding":{"x2":{"field":"x2"},"color":{"field":"v","type":"quantitative","legend":null,"scale":{"domain":[-0.133,0.552],"scheme":"pinkyellowgreen"}}}},{"data":{"name":"c6"},"mark":{"type":"rect","width":5,"height":5.7,"clip":true},"encoding":{"color":{"field":"v","type":"quantitative","legend":null,"scale":{"domain":[-0.133,0.552],"scheme":"pinkyellowgreen"}}}}]},
{"width":12,"height":193,"data":{"values":[]},"mark":"rect","encoding":{}},
{"width":13,"height":193,"view":{"stroke":"#222"},"data":{"values":[-0.109,-0.06,-0.011,0.038,0.087,0.136,0.185,0.234,0.283,0.332,0.381,0.43,0.479,0.528]},"mark":{"type":"rect","height":14,"clip":true},"encoding":{"y":{"field":"data","type":"quantitative","title":null,"scale":{"domain":[-0.133,0.552]},"axis":{"orient":"right","labelAngle":0,"labelPadding":3,"grid":true,"zindex":1,"format":".2f","values":[-0.1,0,0.1,0.2,0.3,0.4,0.5]}},"color":{"field":"data","type":"quantitative","legend":null,"scale":{"domain":[-0.133,0.552],"scheme":"pinkyellowgreen"}}}}
]},
{"width":1256,"height":315,"data":{"values":[{"a":0.5,"b":0.162,"t":"ب"}]},"mark":{"type":"text","font":"DejaVu Sans","fontWeight":"bold","fontSize":20,"color":"#111"},"encoding":{"x":{"field":"a","type":"quantitative","scale":{"domain":[0,1]},"axis":null},"y":{"field":"b","type":"quantitative","scale":{"domain":[0,1]},"axis":null},"text":{"field":"t"}}},
{"bounds":"flush","spacing":0,"resolve":{"scale":{"color":"independent"}},"hconcat":[
{"width":25,"height":193,"data":{"values":[]},"mark":"rect","encoding":{}},
{"width":319,"height":193,"view":{"stroke":"#222"},"title":"Sen's Slope","encoding":{"x":{"field":"x","type":"quantitative","title":null,"scale":{"domain":[52.7,59.2]},"axis":{"values":[53,54,55,56,57,58,59]}},"y":{"field":"y","type":"quantitative","title":null,"scale":{"domain":[25.41,28.88]},"axis":{"values":[26,27,28]}}},"layer":[{"data":{"name":"runs"},"transform":[{"lookup":"z","from":{"data":{"name":"zones"},"key":"z","fields":["s3"]},"as":["v"]}],"mark":{"type":"rect","height":6.2,"clip":true},"encoding":{"x2":{"field":"x2"},"color":{"field":"v","type":"quantitative","legend":null,"scale":{"domain":[-0.00054,0.00226],"scheme":"pinkyellowgreen"}}}},{"data":{"name":"c7"},"mark":{"type":"rect","width":5,"height":5.7,"clip":true},"encoding":{"color":{"field":"v","type":"quantitative","legend":null,"scale":{"domain":[-0.00054,0.00226],"scheme":"pinkyellowgreen"}}}}]},
{"width":12,"height":193,"data":{"values":[]},"mark":"rect","encoding":{}},
{"width":13,"height":193,"view":{"stroke":"#222"},"data":{"values":[-0.00044,-0.00024,-0.00004,0.00016,0.00036,0.00056,0.00076,0.00096,0.00116,0.00136,0.00156,0.00176,0.00196,0.00216]},"mark":{"type":"rect","height":14,"clip":true},"encoding":{"y":{"field":"data","type":"quantitative","title":null,"scale":{"domain":[-0.00054,0.00226]},"axis":{"orient":"right","labelAngle":0,"labelPadding":3,"grid":true,"zindex":1,"format":".4f","values":[-0.0005,0,0.0005,0.001,0.0015,0.002]}},"color":{"field":"data","type":"quantitative","legend":null,"scale":{"domain":[-0.00054,0.00226],"scheme":"pinkyellowgreen"}}}},
{"width":74,"height":193,"data":{"values":[]},"mark":"rect","encoding":{}},
{"width":319,"height":193,"view":{"stroke":"#222"},"title":"p−value","encoding":{"x":{"field":"x","type":"quantitative","title":null,"scale":{"domain":[52.7,59.2]},"axis":{"values":[53,54,55,56,57,58,59]}},"y":{"field":"y","type":"quantitative","title":null,"scale":{"domain":[25.41,28.88]},"axis":{"values":[26,27,28]}}},"layer":[{"data":{"name":"runs"},"transform":[{"lookup":"z","from":{"data":{"name":"zones"},"key":"z","fields":["p3"]},"as":["v"]}],"mark":{"type":"rect","height":6.2,"clip":true},"encoding":{"x2":{"field":"x2"},"color":{"field":"v","type":"quantitative","legend":null,"scale":{"domain":[0,0.99],"range":["#000000","#ffffff"]}}}},{"data":{"name":"c8"},"mark":{"type":"rect","width":5,"height":5.7,"clip":true},"encoding":{"color":{"field":"v","type":"quantitative","legend":null,"scale":{"domain":[0,0.99],"range":["#000000","#ffffff"]}}}}]},
{"width":12,"height":193,"data":{"values":[]},"mark":"rect","encoding":{}},
{"width":13,"height":193,"view":{"stroke":"#222"},"data":{"values":[0.035,0.106,0.177,0.248,0.318,0.389,0.46,0.53,0.601,0.672,0.743,0.813,0.884,0.955]},"mark":{"type":"rect","height":14,"clip":true},"encoding":{"y":{"field":"data","type":"quantitative","title":null,"scale":{"domain":[0,0.99]},"axis":{"orient":"right","labelAngle":0,"labelPadding":3,"grid":true,"zindex":1,"format":".2f","values":[0,0.2,0.4,0.6,0.8]}},"color":{"field":"data","type":"quantitative","legend":null,"scale":{"domain":[0,0.99],"range":["#000000","#ffffff"]}}}},
{"width":75,"height":193,"data":{"values":[]},"mark":"rect","encoding":{}},
{"width":319,"height":193,"view":{"stroke":"#222"},"title":"Kendall's Tau","encoding":{"x":{"field":"x","type":"quantitative","title":null,"scale":{"domain":[52.7,59.2]},"axis":{"values":[53,54,55,56,57,58,59]}},"y":{"field":"y","type":"quantitative","title":null,"scale":{"domain":[25.41,28.88]},"axis":{"values":[26,27,28]}}},"layer":[{"data":{"name":"runs"},"transform":[{"lookup":"z","from":{"data":{"name":"zones"},"key":"z","fields":["t3"]},"as":["v"]}],"mark":{"type":"rect","height":6.2,"clip":true},"encoding":{"x2":{"field":"x2"},"color":{"field":"v","type":"quantitative","legend":null,"scale":{"domain":[-0.3,0.706],"scheme":"pinkyellowgreen"}}}},{"data":{"name":"c9"},"mark":{"type":"rect","width":5,"height":5.7,"clip":true},"encoding":{"color":{"field":"v","type":"quantitative","legend":null,"scale":{"domain":[-0.3,0.706],"scheme":"pinkyellowgreen"}}}}]},
{"width":12,"height":193,"data":{"values":[]},"mark":"rect","encoding":{}},
{"width":13,"height":193,"view":{"stroke":"#222"},"data":{"values":[-0.264,-0.192,-0.12,-0.048,0.024,0.095,0.167,0.239,0.311,0.383,0.455,0.527,0.598,0.67]},"mark":{"type":"rect","height":14,"clip":true},"encoding":{"y":{"field":"data","type":"quantitative","title":null,"scale":{"domain":[-0.3,0.706]},"axis":{"orient":"right","labelAngle":0,"labelPadding":3,"grid":true,"zindex":1,"format":".1f","values":[-0.2,0,0.2,0.4,0.6]}},"color":{"field":"data","type":"quantitative","legend":null,"scale":{"domain":[-0.3,0.706],"scheme":"pinkyellowgreen"}}}}
]},
{"width":1256,"height":323,"data":{"values":[{"a":0.5,"b":0.176,"t":"ج"}]},"mark":{"type":"text","font":"DejaVu Sans","fontWeight":"bold","fontSize":20,"color":"#111"},"encoding":{"x":{"field":"a","type":"quantitative","scale":{"domain":[0,1]},"axis":null},"y":{"field":"b","type":"quantitative","scale":{"domain":[0,1]},"axis":null},"text":{"field":"t"}}},
{"bounds":"flush","spacing":0,"resolve":{"scale":{"color":"independent"}},"hconcat":[
{"width":25,"height":193,"data":{"values":[]},"mark":"rect","encoding":{}},
{"width":318,"height":193,"view":{"stroke":"#222"},"title":"Sen's Slope","encoding":{"x":{"field":"x","type":"quantitative","title":null,"scale":{"domain":[52.7,59.2]},"axis":{"values":[53,54,55,56,57,58,59]}},"y":{"field":"y","type":"quantitative","title":null,"scale":{"domain":[25.41,28.88]},"axis":{"values":[26,27,28]}}},"layer":[{"data":{"name":"runs"},"transform":[{"lookup":"z","from":{"data":{"name":"zones"},"key":"z","fields":["s4"]},"as":["v"]}],"mark":{"type":"rect","height":6.2,"clip":true},"encoding":{"x2":{"field":"x2"},"color":{"field":"v","type":"quantitative","legend":null,"scale":{"domain":[-0.00081,0.00435],"scheme":"pinkyellowgreen"}}}},{"data":{"name":"c10"},"mark":{"type":"rect","width":5,"height":5.7,"clip":true},"encoding":{"color":{"field":"v","type":"quantitative","legend":null,"scale":{"domain":[-0.00081,0.00435],"scheme":"pinkyellowgreen"}}}}]},
{"width":12,"height":193,"data":{"values":[]},"mark":"rect","encoding":{}},
{"width":14,"height":193,"view":{"stroke":"#222"},"data":{"values":[-0.00063,-0.00026,0.00011,0.00048,0.00085,0.00122,0.00159,0.00195,0.00232,0.00269,0.00306,0.00343,0.0038,0.00417]},"mark":{"type":"rect","height":14,"clip":true},"encoding":{"y":{"field":"data","type":"quantitative","title":null,"scale":{"domain":[-0.00081,0.00435]},"axis":{"orient":"right","labelAngle":0,"labelPadding":3,"grid":true,"zindex":1,"format":".4f","values":[0,0.001,0.002,0.003,0.004]}},"color":{"field":"data","type":"quantitative","legend":null,"scale":{"domain":[-0.00081,0.00435],"scheme":"pinkyellowgreen"}}}},
{"width":74,"height":193,"data":{"values":[]},"mark":"rect","encoding":{}},
{"width":318,"height":193,"view":{"stroke":"#222"},"title":"p−value","encoding":{"x":{"field":"x","type":"quantitative","title":null,"scale":{"domain":[52.7,59.2]},"axis":{"values":[53,54,55,56,57,58,59]}},"y":{"field":"y","type":"quantitative","title":null,"scale":{"domain":[25.41,28.88]},"axis":{"values":[26,27,28]}}},"layer":[{"data":{"name":"runs"},"transform":[{"lookup":"z","from":{"data":{"name":"zones"},"key":"z","fields":["p4"]},"as":["v"]}],"mark":{"type":"rect","height":6.2,"clip":true},"encoding":{"x2":{"field":"x2"},"color":{"field":"v","type":"quantitative","legend":null,"scale":{"domain":[0,1],"range":["#000000","#ffffff"]}}}},{"data":{"name":"c11"},"mark":{"type":"rect","width":5,"height":5.7,"clip":true},"encoding":{"color":{"field":"v","type":"quantitative","legend":null,"scale":{"domain":[0,1],"range":["#000000","#ffffff"]}}}}]},
{"width":12,"height":193,"data":{"values":[]},"mark":"rect","encoding":{}},
{"width":14,"height":193,"view":{"stroke":"#222"},"data":{"values":[0.036,0.107,0.179,0.25,0.321,0.393,0.464,0.536,0.607,0.679,0.75,0.821,0.893,0.964]},"mark":{"type":"rect","height":14,"clip":true},"encoding":{"y":{"field":"data","type":"quantitative","title":null,"scale":{"domain":[0,1]},"axis":{"orient":"right","labelAngle":0,"labelPadding":3,"grid":true,"zindex":1,"format":".1f","values":[0,0.2,0.4,0.6,0.8,1]}},"color":{"field":"data","type":"quantitative","legend":null,"scale":{"domain":[0,1],"range":["#000000","#ffffff"]}}}},
{"width":74,"height":193,"data":{"values":[]},"mark":"rect","encoding":{}},
{"width":318,"height":193,"view":{"stroke":"#222"},"title":"Kendall's Tau","encoding":{"x":{"field":"x","type":"quantitative","title":null,"scale":{"domain":[52.7,59.2]},"axis":{"values":[53,54,55,56,57,58,59]}},"y":{"field":"y","type":"quantitative","title":null,"scale":{"domain":[25.41,28.88]},"axis":{"values":[26,27,28]}}},"layer":[{"data":{"name":"runs"},"transform":[{"lookup":"z","from":{"data":{"name":"zones"},"key":"z","fields":["t4"]},"as":["v"]}],"mark":{"type":"rect","height":6.2,"clip":true},"encoding":{"x2":{"field":"x2"},"color":{"field":"v","type":"quantitative","legend":null,"scale":{"domain":[-0.146,0.654],"scheme":"pinkyellowgreen"}}}},{"data":{"name":"c12"},"mark":{"type":"rect","width":5,"height":5.7,"clip":true},"encoding":{"color":{"field":"v","type":"quantitative","legend":null,"scale":{"domain":[-0.146,0.654],"scheme":"pinkyellowgreen"}}}}]},
{"width":11,"height":193,"data":{"values":[]},"mark":"rect","encoding":{}},
{"width":14,"height":193,"view":{"stroke":"#222"},"data":{"values":[-0.117,-0.06,-0.003,0.054,0.111,0.169,0.226,0.283,0.34,0.397,0.454,0.511,0.569,0.626]},"mark":{"type":"rect","height":14,"clip":true},"encoding":{"y":{"field":"data","type":"quantitative","title":null,"scale":{"domain":[-0.146,0.654]},"axis":{"orient":"right","labelAngle":0,"labelPadding":3,"grid":true,"zindex":1,"format":".2f","values":[-0.1,0,0.1,0.2,0.3,0.4,0.5,0.6]}},"color":{"field":"data","type":"quantitative","legend":null,"scale":{"domain":[-0.146,0.654],"scheme":"pinkyellowgreen"}}}}
]},
{"width":1256,"height":267,"data":{"values":[{"a":0.5,"b":0.03,"t":"د"}]},"mark":{"type":"text","font":"DejaVu Sans","fontWeight":"bold","fontSize":20,"color":"#111"},"encoding":{"x":{"field":"a","type":"quantitative","scale":{"domain":[0,1]},"axis":null},"y":{"field":"b","type":"quantitative","scale":{"domain":[0,1]},"axis":null},"text":{"field":"t"}}}
]}
